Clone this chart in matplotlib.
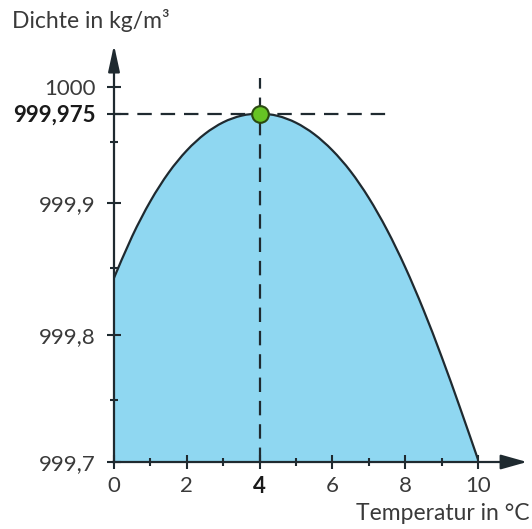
import numpy as np
import matplotlib
matplotlib.use("Agg")
import matplotlib.pyplot as plt
from matplotlib.path import Path
from matplotlib.patches import PathPatch
from matplotlib.transforms import IdentityTransform

# ---- data ----
temperature = [0, 0.5, 1, 1.5, 2, 2.5, 3, 3.5, 4, 4.5, 5, 5.5, 6, 6.5, 7, 7.5, 8, 8.5, 9, 9.5, 10]
density = [999.8428, 999.8745, 999.9017, 999.9245, 999.9429, 999.9571, 999.9672, 999.9731,
           999.9750, 999.9729, 999.9668, 999.9568, 999.9430, 999.9256, 999.9043, 999.8794,
           999.8509, 999.8189, 999.7834, 999.7445, 999.7021]
max_temp = 4
max_density = 999.975
xticks_major = [0, 2, 4, 6, 8, 10]
xticks_minor = [1, 3, 5, 7, 9]
xtick_labels = ["0", "2", "4", "6", "8", "10"]
yticks_major = [999.7, 999.8, 999.9, 999.975, 1000]
ytick_labels = ["999,7", "999,8", "999,9", "999,975", "1000"]
yticks_minor = [999.75, 999.85, 999.95]
y_label = "Dichte in kg/m³"
x_label = "Temperatur in °C"

# schematic (non-uniform) density axis as drawn in the original:
# smooth cubic mapping fitted through the measured tick positions
knot_vals = np.array([999.7, 999.75, 999.8, 999.85, 999.9, 999.95, 999.975, 1000.0])
knot_pos = -np.array([462, 400, 337, 268, 200, 145, 116, 85], dtype=float)
_c0 = 999.85
_coef = np.polyfit(knot_vals - _c0, knot_pos, 3)

def fwd(v):
    return np.polyval(_coef, np.asarray(v, dtype=float) - _c0)

_grid = np.linspace(999.55, 1000.15, 60001)
_gpos = fwd(_grid)

def inv(u):
    return np.interp(u, _gpos, _grid)

W, H = 532, 529
plt.rcParams['font.family'] = ['Lato', 'DejaVu Sans']
fig = plt.figure(figsize=(W / 100, H / 100), dpi=100)

px_per_unit = 36.4
x0_px, y0_px, top_px = 114, 462, 30
ax = fig.add_axes([x0_px / W, 1 - y0_px / H, (W - x0_px) / W, (y0_px - top_px) / H])
ax.set_yscale('function', functions=(fwd, inv))
xmax = (W - x0_px) / px_per_unit
ax.set_xlim(0, xmax)
ybot = float(inv(fwd(999.7)))
ytop = float(inv(fwd(999.7) + (y0_px - top_px)))
ax.set_ylim(999.7, ytop)
ax.patch.set_alpha(0)

for s in ax.spines.values():
    s.set_visible(False)

axis_col = '#1f2a30'
text_col = '#3a3a3a'

# smooth curve (Catmull-Rom -> cubic Bezier) through the data points, in display space
pts = ax.transData.transform(np.column_stack([temperature, density]))
ext = np.vstack([pts[0], pts, pts[-1]])
verts = [pts[0]]
codes = [Path.MOVETO]
for i in range(1, len(ext) - 2):
    p0, p1, p2, p3 = ext[i - 1], ext[i], ext[i + 1], ext[i + 2]
    verts += [p1 + (p2 - p0) / 6.0, p2 - (p3 - p1) / 6.0, p2]
    codes += [Path.CURVE4] * 3
curve_path = Path(verts, codes)

base = ax.transData.transform([[temperature[-1], 999.7], [temperature[0], 999.7]])
fill_path = Path(verts + [base[0], base[1], pts[0], pts[0]],
                 codes + [Path.LINETO, Path.LINETO, Path.LINETO, Path.CLOSEPOLY])

ax.add_patch(PathPatch(fill_path, transform=IdentityTransform(), facecolor='#8fd7f1',
                       edgecolor='none', zorder=1))
ax.add_patch(PathPatch(curve_path, transform=IdentityTransform(), facecolor='none',
                       edgecolor=axis_col, lw=1.6, zorder=3))

# dashed helper lines
ax.plot([0, 7.7], [max_density, max_density], color=axis_col, lw=1.6,
        dashes=(6.5, 4), zorder=4)
vtop = float(inv(fwd(999.7) + (y0_px - 78)))
ax.plot([max_temp, max_temp], [999.7, vtop], color=axis_col, lw=1.6,
        dashes=(6.5, 4), zorder=4)

# axes with arrows
ytip = float(inv(fwd(999.7) + (y0_px - 45)))
ax.annotate('', xy=((527 - x0_px) / px_per_unit, 999.7), xytext=(-0.05, 999.7),
            arrowprops=dict(arrowstyle='-|>,head_length=1.6,head_width=0.45',
                            color=axis_col, lw=1.6, shrinkA=0, shrinkB=0),
            annotation_clip=False, zorder=6)
ax.annotate('', xy=(0, ytip), xytext=(0, 999.7),
            arrowprops=dict(arrowstyle='-|>,head_length=1.6,head_width=0.35',
                            color=axis_col, lw=1.6, shrinkA=0, shrinkB=0),
            annotation_clip=False, zorder=6)

# max point
ax.plot([max_temp], [max_density], marker='o', ms=12, mfc='#66c424', mec='#2a4a10',
        mew=1.5, zorder=7, clip_on=False)

# ticks
ax.set_xticks(xticks_major)
ax.set_xticklabels(xtick_labels)
ax.set_xticks(xticks_minor, minor=True)
ax.set_yticks(yticks_major)
ax.set_yticklabels(ytick_labels)
ax.set_yticks(yticks_minor, minor=True)
ax.tick_params(which='major', direction='inout', length=10, width=1.5, color=axis_col,
               labelsize=16, labelcolor=text_col)
ax.tick_params(which='minor', direction='inout', length=6, width=1.5, color=axis_col)
ax.tick_params(axis='x', pad=5)
ax.tick_params(axis='y', pad=8)
for lbl in ax.get_yticklabels():
    if lbl.get_text() == "999,975":
        lbl.set_fontweight('bold')
        lbl.set_color('#1a1a1a')
for lbl in ax.get_xticklabels():
    if lbl.get_text() == "4":
        lbl.set_fontweight('bold')
        lbl.set_color('#1a1a1a')

fig.text(12 / W, 1 - 28 / H, y_label, ha='left', va='baseline', fontsize=16.5, color=text_col)
fig.text(529 / W, 1 - 520 / H, x_label, ha='right', va='baseline', fontsize=16.5, color=text_col)

fig.savefig('out.png', dpi=100)
